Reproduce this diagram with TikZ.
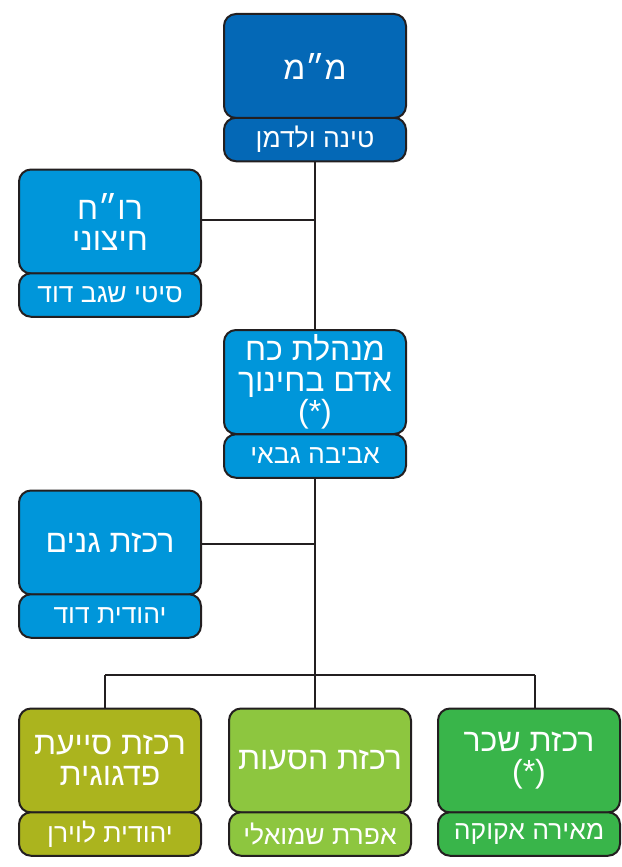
\documentclass[tikz,border=0pt]{standalone}
\usepackage{fontspec}
\TeXXeTstate=1
\newfontfamily\heb[Script=Hebrew]{Liberation Sans}
\definecolor{cdark}{HTML}{0468B6}
\definecolor{cblue}{HTML}{0096DA}
\definecolor{colive}{HTML}{ABB41E}
\definecolor{clight}{HTML}{8DC63F}
\definecolor{cgreen}{HTML}{39B54A}
\definecolor{cline}{HTML}{231F20}
\tikzset{
  mainbox/.style={draw=cline, line width=2pt, rounded corners=12pt, minimum width=182pt, minimum height=104pt, inner sep=0pt, text=white, font=\heb\fontsize{32}{31}\selectfont, align=center},
  subbox/.style={draw=cline, line width=2pt, rounded corners=12pt, minimum width=182pt, minimum height=43.5pt, inner sep=0pt, text=white, font=\heb\fontsize{26.5}{28}\selectfont},
  conn/.style={draw=cline, line width=2pt}
}
\newcommand{\rl}[1]{\beginR #1\endR}
\begin{document}
\begin{tikzpicture}[x=1pt,y=-1pt]
\useasboundingbox (0,0) rectangle (621,867);
% connectors
\coordinate (jb) at (315,675);
\coordinate (jl) at (105,675);
\coordinate (jr) at (535,675);
\draw[conn] (315,140) -- (jb);
\draw[conn] (jl) -- (jr);
\draw[conn] (jl) -- (105,712);
\draw[conn] (jr) -- (535,712);
\draw[conn] (jb) -- (315,712);
\draw[conn] (200,220) -- (315,220);
\draw[conn] (200,544) -- (315,544);
% boxes
\node[mainbox, fill=cdark] (topm) at (315,66) {\rl{מ״מ}};
\node[subbox, fill=cdark] (tops) at (315,139.5) {\rl{טינה ולדמן}};
\node[mainbox, fill=cblue] (rhm) at (110,221.5) {\rl{רו״ח}\\\rl{חיצוני}};
\node[subbox, fill=cblue] (rhs) at (110,295) {\rl{סיטי שגב דוד}};
\node[mainbox, fill=cblue] (midm) at (315,382) {\rl{מנהלת כח}\\\rl{אדם בחינוך}\\(*)};
\node[subbox, fill=cblue] (mids) at (315,456) {\rl{אביבה גבאי}};
\node[mainbox, fill=cblue] (ganm) at (110,542.5) {\rl{רכזת גנים}};
\node[subbox, fill=cblue] (gans) at (110,616) {\rl{יהודית דוד}};
\node[mainbox, fill=colive] (b1m) at (110,760.5) {\rl{רכזת סייעת}\\\rl{פדגוגית}};
\node[subbox, fill=colive] (b1s) at (110,834) {\rl{יהודית לוירן}};
\node[mainbox, fill=clight] (b2m) at (320,760.5) {\rl{רכזת הסעות}};
\node[subbox, fill=clight] (b2s) at (320,834) {\rl{אפרת שמואלי}};
\node[mainbox, fill=cgreen] (b3m) at (529,760.5) {\rl{רכזת שכר}\\(*)};
\node[subbox, fill=cgreen] (b3s) at (529,834) {\rl{מאירה אקוקה}};
\end{tikzpicture}
\end{document}
